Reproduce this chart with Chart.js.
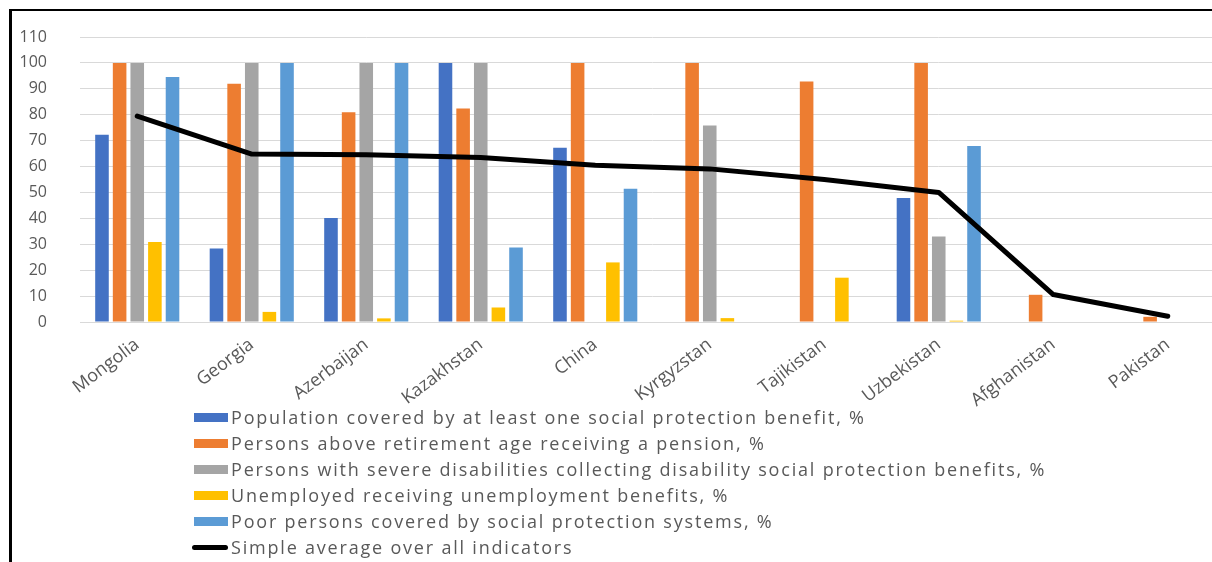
<!DOCTYPE html>
<html>
<head>
<meta charset="utf-8">
<script src="https://cdn.jsdelivr.net/npm/chart.js@4.4.1/dist/chart.umd.min.js"></script>
<style>
  html, body { margin: 0; padding: 0; background: #fff; overflow: hidden; }
  #frame {
    position: absolute; left: 9px; top: 9px;
    width: 1260px; height: 600px;
    border-left: 3px solid #000; border-top: 2px solid #000;
  }
  #wrap { position: absolute; left: 0; top: 0; width: 1213px; height: 420px; }
  #legend {
    position: absolute; left: 182px; top: 393px;
    font-family: "Open Sans", sans-serif; font-size: 18px; letter-spacing: 1.8px; color: #595959;
  }
  #legend .item { height: 26px; display: flex; align-items: center; white-space: nowrap; }
  #legend .box { width: 34px; height: 9px; margin-right: 3px; }
  #legend .line { width: 36px; height: 5px; border-radius: 3px; margin-left: -2px; margin-right: 3px; }
</style>
</head>
<body>
<div id="frame">
  <div id="wrap"><canvas id="myChart"></canvas></div>
  <div id="legend"></div>
</div>
<script>
// social protection coverage by country

const countries = ['Mongolia', 'Georgia', 'Azerbaijan', 'Kazakhstan', 'China',
  'Kyrgyzstan', 'Tajikistan', 'Uzbekistan', 'Afghanistan', 'Pakistan'];

const population = [72.3, 28.4, 40.1, 100, 67.3, null, null, 47.9, null, null];
const pension = [100, 92, 81, 82.4, 100, 100, 92.8, 100, 10.5, 2];
const disability = [100, 100, 100, 100, null, 75.8, null, 33, null, null];
const unemployed = [30.9, 3.9, 1.4, 5.6, 23, 1.5, 17.1, 0.5, null, null];
const poor = [94.6, 100, 100, 28.8, 51.4, null, null, 67.9, null, null];
const average = [79.5, 64.8, 64.6, 63.5, 60.5, 59.1, 55, 50, 10.6, 2.2];

const yTicks = [0, 10, 20, 30, 40, 50, 60, 70, 80, 90, 100, 110];

function bar(label, values, color) {
  return {
    type: 'bar',
    label: label,
    data: values,
    backgroundColor: color,
    borderWidth: 0,
    categoryPercentage: 0.77,
    barPercentage: 0.77,
    order: 1
  };
}

const data = {
  labels: countries,
  datasets: [
    bar('Population covered by at least one social protection benefit, %', population, '#4472C4'),
    bar('Persons above retirement age receiving a pension, %', pension, '#ED7D31'),
    bar('Persons with severe disabilities collecting disability social protection benefits, %', disability, '#A5A5A5'),
    bar('Unemployed receiving unemployment benefits, %', unemployed, '#FFC000'),
    bar('Poor persons covered by social protection systems, %', poor, '#5B9BD5'),
    {
      type: 'line',
      label: 'Simple average over all indicators',
      data: average,
      borderColor: '#000',
      borderWidth: 5,
      pointRadius: 0,
      tension: 0,
      borderCapStyle: 'round',
      borderJoinStyle: 'round',
      order: 0
    }
  ]
};

// legend list under the chart, one entry per row
const htmlLegend = {
  id: 'htmlLegend',
  afterUpdate(chart) {
    const box = document.getElementById('legend');
    box.innerHTML = '';
    chart.data.datasets.forEach(ds => {
      const row = document.createElement('div');
      row.className = 'item';
      const sw = document.createElement('span');
      if (ds.type === 'line') {
        sw.className = 'line';
        sw.style.background = ds.borderColor;
      } else {
        sw.className = 'box';
        sw.style.background = ds.backgroundColor;
      }
      const txt = document.createElement('span');
      txt.textContent = ds.label;
      row.appendChild(sw);
      row.appendChild(txt);
      box.appendChild(row);
    });
  }
};

const config = {
  data: data,
  options: {
    responsive: true,
    maintainAspectRatio: false,
    animation: false,
    layout: { padding: { top: 26, right: 0, bottom: 0, left: 0 } },
    plugins: {
      legend: { display: false },
      tooltip: { enabled: false }
    },
    scales: {
      x: {
        grid: { display: false, drawTicks: false },
        border: { color: '#d9d9d9' },
        ticks: {
          color: '#595959',
          font: { family: 'Open Sans', size: 18 },
          minRotation: 37,
          maxRotation: 37,
          padding: 12,
          autoSkip: false
        },
        // label room below the plot; the legend sits over the lower part
        afterFit(scale) { scale.height = 109; }
      },
      y: {
        min: 0,
        max: 110,
        afterBuildTicks(scale) { scale.ticks = yTicks.map(v => ({ value: v })); },
        // invisible tick marks keep the labels away from the plot
        grid: { color: '#d9d9d9', drawTicks: true, tickLength: 30, tickColor: 'rgba(0,0,0,0)' },
        border: { display: false },
        ticks: { color: '#595959', font: { family: 'Open Sans', size: 16 }, padding: 3 },
        afterFit(scale) { scale.width = 68; }
      }
    }
  },
  plugins: [htmlLegend]
};

const myChart = new Chart(document.getElementById('myChart'), config);
</script>
</body>
</html>
